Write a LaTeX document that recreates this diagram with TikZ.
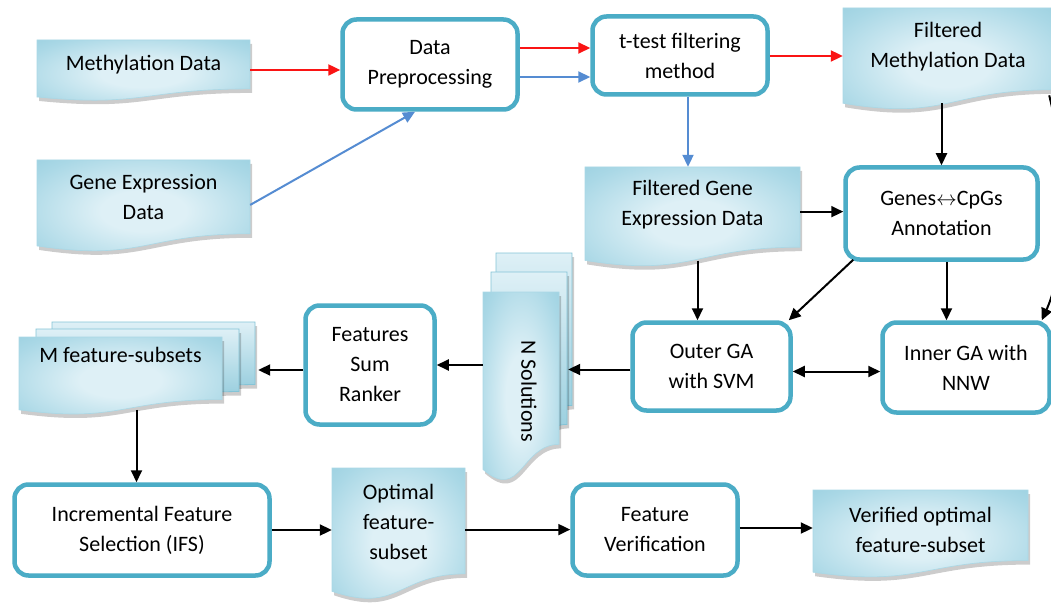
\documentclass[tikz,border=0pt]{standalone}
\usepackage{fontspec}
\setmainfont{Carlito}
\usetikzlibrary{arrows.meta,calc}
\definecolor{boxc}{RGB}{75,172,198}
\definecolor{docdark}{RGB}{132,196,215}
\definecolor{docmid}{RGB}{170,216,230}
\definecolor{doclight}{RGB}{222,240,246}
\definecolor{redc}{RGB}{250,20,20}
\definecolor{bluec}{RGB}{85,140,210}
\pgfdeclareradialshading{docshade}{\pgfpoint{0bp}{0bp}}{color(0bp)=(doclight); color(10bp)=(doclight); color(30bp)=(docmid); color(50bp)=(docdark)}
\newcommand\docshape[5]{%
 \pgfmathsetmacro\dxa{#2+#4}\pgfmathsetmacro\dxm{#2+0.5*#4}%
 \pgfmathsetmacro\dyr{#3+0.802*#5}\pgfmathsetmacro\dyc{#3+1.107*#5}\pgfmathsetmacro\dyl{#3+0.934*#5}%
 \path[#1] (#2,#3) -- (\dxa,#3) -- (\dxa,\dyr) .. controls (\dxm,\dyr) and (\dxm,\dyc) .. (#2,\dyl) -- cycle;}
\newcommand\lift[2]{\raisebox{#1}[\height][\depth]{\begin{tabular}{@{}c@{}}#2\end{tabular}}}
\newcommand\doc[7]{%
 \docshape{docshadow, shift={(2,4)}}{#2}{#3}{#4}{#5}%
 \docshape{docfill}{#2}{#3}{#4}{#5}%
 \pgfmathsetmacro\dcx{#2+0.5*#4}\pgfmathsetmacro\dcy{#3+0.4665*#5}\pgfmathsetmacro\dmh{0.933*#5}%
 \node[docnode, minimum width=#4pt, minimum height=\dmh pt] (#1) at (\dcx,\dcy) {\lift{#6pt}{#7}};}
\newcommand\backpage[6]{%
 \docshape{docshadow, shift={(#1+2,#2+4)}}{#3}{#4}{#5}{#6}%
 \docshape{backfill, shift={(#1,#2)}}{#3}{#4}{#5}{#6}}
\tikzset{
 proc/.style={draw=boxc, line width=4.5pt, rounded corners=14pt, fill=white, align=center,
   font=\fontsize{22}{30}\selectfont, inner sep=0pt},
 docfill/.style={shading=docshade, draw=docmid, line width=0.6pt},
 backfill/.style={top color=doclight, bottom color=docdark, draw=docdark, line width=0.8pt},
 docshadow/.style={fill=black, opacity=0.2},
 docnode/.style={inner sep=0pt, font=\fontsize{22}{30}\selectfont},
 conn/.style={line width=2pt, -{Triangle[length=12pt,width=11pt]}},
 redconn/.style={conn, draw=redc, -{Triangle[length=12pt,width=11pt,fill=redc]}},
 blueconn/.style={conn, draw=bluec, -{Triangle[length=12pt,width=11pt,fill=bluec]}},
}
\begin{document}
\begin{tikzpicture}[x=1pt,y=-1pt]
\useasboundingbox (0,0) rectangle (1051,604);
\fill[white] (0,0) rectangle (1051,604);
% documents
\doc{meth}{37}{40}{213}{61}{3.5}{Methylation Data}
\doc{gene}{37}{160}{213}{92}{4}{Gene Expression\\Data}
\doc{fmeth}{843}{8}{210}{102}{8.6}{Filtered\\Methylation Data}
\doc{fge}{585}{167}{215}{100}{8.7}{Filtered Gene\\Expression Data}
\doc{opt}{332}{468}{133}{132}{5.6}{Optimal\\feature-\\subset}
\doc{ver}{813}{490}{215}{88}{0}{Verified optimal\\feature-subset}
% N solutions stack
\backpage{13}{-39}{483}{292}{76}{190}
\backpage{8}{-20}{483}{292}{76}{190}
\doc{nsol}{483}{292}{76}{190}{0}{\hspace*{16pt}\rotatebox{-90}{N Solutions}}
% M feature-subsets stack
\backpage{33}{-15}{19}{337}{203}{78}
\backpage{17}{-8}{19}{337}{203}{78}
\doc{msub}{19}{337}{203}{78}{16.4}{M feature-subsets}
% process boxes
\node[proc, minimum width=175pt, minimum height=90pt] (dp) at (430,64.5) {Data\\Preprocessing};
\node[proc, minimum width=175pt, minimum height=78pt] (ttest) at (680,55.5) {t-test filtering\\method};
\node[proc, minimum width=192pt, minimum height=92pt] (annot) at (941.5,213.5) {Genes$\leftrightarrow$CpGs\\Annotation};
\node[proc, minimum width=158pt, minimum height=88pt] (outer) at (711.5,366.5) {Outer GA\\with SVM};
\node[proc, minimum width=167pt, minimum height=90pt] (inner) at (966,367.5) {Inner GA with\\NNW};
\node[proc, minimum width=129pt, minimum height=119pt] (fsr) at (370,365) {Features\\Sum\\Ranker};
\node[proc, minimum width=255pt, minimum height=91pt] (ifs) at (142,530) {Incremental Feature\\Selection (IFS)};
\node[proc, minimum width=165pt, minimum height=91pt] (fv) at (655,530) {Feature\\Verification};
% connectors
\draw[redconn] ([yshift=-1.5pt]meth.east) -- ([yshift=-1.5pt]meth.east -| dp.west);
\draw[blueconn] ([yshift=-2pt]gene.east) -- ([xshift=-15pt]dp.south);
\draw[redconn] ([yshift=16.5pt]dp.east) -- ([yshift=16.5pt]dp.east -| ttest.west);
\draw[blueconn] ([yshift=-12.5pt]dp.east) -- ([yshift=-12.5pt]dp.east -| ttest.west);
\draw[redconn] ([yshift=-0.5pt]ttest.east) -- ([yshift=-0.5pt]ttest.east -| fmeth.west);
\draw[blueconn] ([xshift=8pt]ttest.south) -- ([xshift=8pt]ttest.south |- fge.north);
\draw[conn] (annot.north |- fmeth.south) -- (annot.north);
\draw[conn] ([yshift=2pt]fge.east) -- ([yshift=2pt]fge.east -| annot.west);
\draw[conn] ([xshift=-14pt]outer.north |- fge.south) -- ([xshift=-14pt]outer.north);
\draw[conn] ([xshift=10pt,yshift=2pt]annot.south west) -- ([xshift=-4pt]outer.north east);
\draw[conn] ([xshift=5pt]annot.south) -- ([xshift=5pt]annot.south |- inner.north);
\draw[conn] ([xshift=-4pt,yshift=8pt]fmeth.south east) .. controls (1075,200) and (1060,280) .. ([xshift=-10pt]inner.north east);
\draw[line width=2pt, {Triangle[length=12pt,width=11pt]}-{Triangle[length=12pt,width=11pt]}] ([yshift=-5pt]outer.east) -- ([yshift=-5pt]outer.east -| inner.west);
\draw[conn] ([yshift=-3pt]outer.west) -- ([xshift=9pt,yshift=-3pt]nsol.east |- outer.west);
\draw[conn] (nsol.west |- fsr.east) -- (fsr.east);
\draw[conn] ([yshift=-5pt]fsr.west) -- ([xshift=36pt,yshift=-5pt]msub.east |- fsr.west);
\draw[conn] ([xshift=16pt]msub.south) -- ([xshift=16pt]msub.south |- ifs.north);
\draw[conn] (ifs.east) -- (ifs.east -| opt.west);
\draw[conn] (opt.east) -- (opt.east -| fv.west);
\draw[conn] ([yshift=2pt]fv.east) -- ([yshift=2pt]fv.east -| ver.west);
\end{tikzpicture}
\end{document}
